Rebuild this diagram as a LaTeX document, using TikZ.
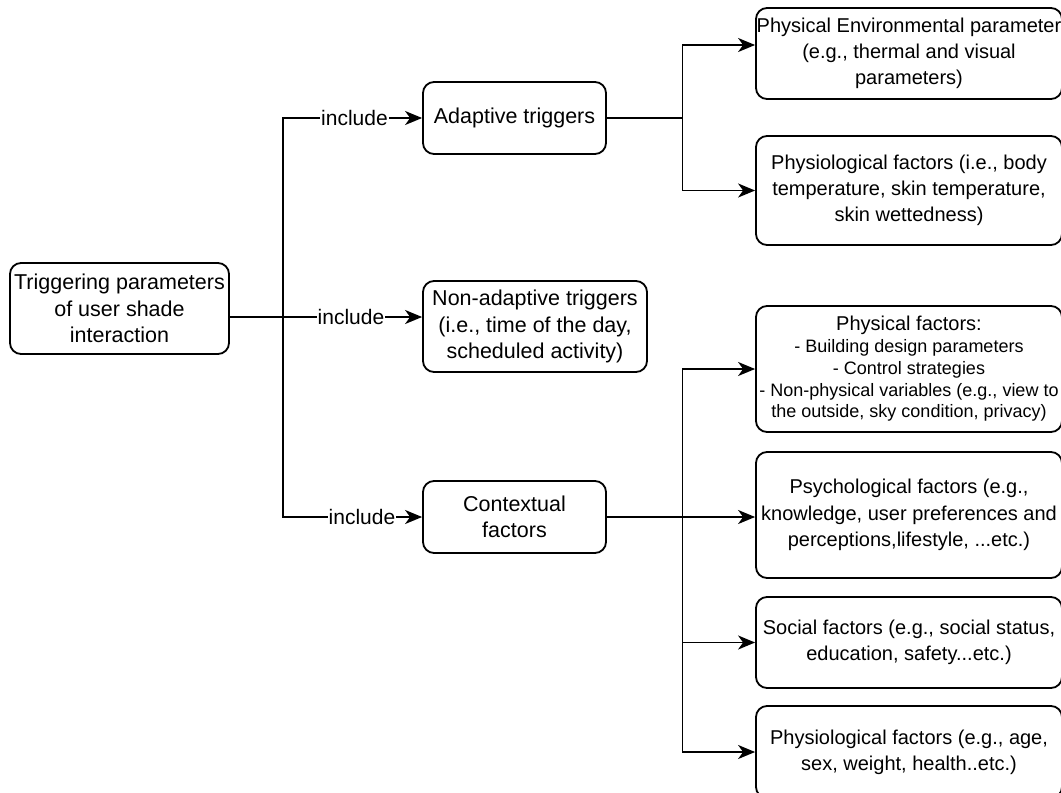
\documentclass[tikz,border=0pt]{standalone}
\usepackage{fontspec}
\setmainfont{Liberation Sans}
\usetikzlibrary{arrows.meta}

\begin{document}
\begin{tikzpicture}[x=1pt,y=-1pt,
    box/.style={draw,line width=1.8pt,rounded corners=11pt,align=center,inner sep=0pt},
    leftbox/.style={box,font=\fontsize{21.5}{26.3}\selectfont},
    rightbox/.style={box,minimum width=306pt,font=\fontsize{20}{26.3}\selectfont},
    link/.style={line width=1.8pt,-{Stealth[length=17pt,width=14pt,inset=5pt]}},
    lbl/.style={fill=white,inner sep=1pt,font=\fontsize{21}{24}\selectfont}]
        \useasboundingbox (0,0) rectangle (1061,793);
        % left column
        \node[leftbox,minimum width=219pt,minimum height=91pt] (root) at (119.5,308.5) {Triggering parameters\\of user shade\\interaction};
        \node[leftbox,minimum width=183pt,minimum height=72pt] (adapt) at (514.5,118) {Adaptive triggers};
        \node[leftbox,minimum width=224pt,minimum height=91pt] (nonadapt) at (535,326.5) {Non-adaptive triggers\\(i.e., time of the day,\\scheduled activity)};
        \node[leftbox,minimum width=183pt,minimum height=72pt] (context) at (514.5,517) {Contextual\\factors};
        % right column
        \node[rightbox,minimum height=91pt] (env) at (909,53.5) {Physical Environmental parameter\\(e.g., thermal and visual\\parameters)};
        \node[rightbox,minimum height=109pt] (physio1) at (909,190.5) {Physiological factors (i.e., body\\temperature, skin temperature,\\skin wettedness)};
        \node[rightbox,minimum height=126pt,font=\fontsize{18}{21.7}\selectfont] (physical) at (909,369) {{\fontsize{20}{22}\selectfont Physical factors:}\\- Building design parameters\\- Control strategies\\- Non-physical variables (e.g., view to\\the outside, sky condition, privacy)};
        \node[rightbox,minimum height=126pt] (psycho) at (909,515) {Psychological factors (e.g.,\\knowledge, user preferences and\\perceptions,lifestyle, ...etc.)};
        \node[rightbox,minimum height=91pt] (social) at (909,642.5) {Social factors (e.g., social status,\\education, safety...etc.)};
        \node[rightbox,minimum height=92pt] (physio2) at (909,752) {Physiological factors (e.g., age,\\sex, weight, health..etc.)};
        % connectors
        \coordinate (split) at (283,317);
        \coordinate (asplit) at (682.5,118);
        \coordinate (csplit) at (682.5,517);
        \draw[link] ([yshift=-8.5pt]root.east) -- (split) |- node[lbl,pos=0.757] (inc1) {include} (adapt.west);
        \draw[link] ([yshift=-8.5pt]root.east) -- node[lbl,pos=0.63] (inc2) {include} ([yshift=9.5pt]nonadapt.west);
        \draw[link] (split) |- node[lbl,pos=0.784] (inc3) {include} (context.west);
        \draw[link] (adapt.east) -- (asplit) |- ([yshift=8.5pt]env.west);
        \draw[link] (asplit) |- (physio1.west);
        \draw[link] (context.east) -- (psycho.west |- context.east);
        \draw[link] (csplit) |- (physical.west);
        \draw[link] (csplit) |- (social.west);
        \draw[link] (csplit) |- (physio2.west);
      \end{tikzpicture}
\end{document}
